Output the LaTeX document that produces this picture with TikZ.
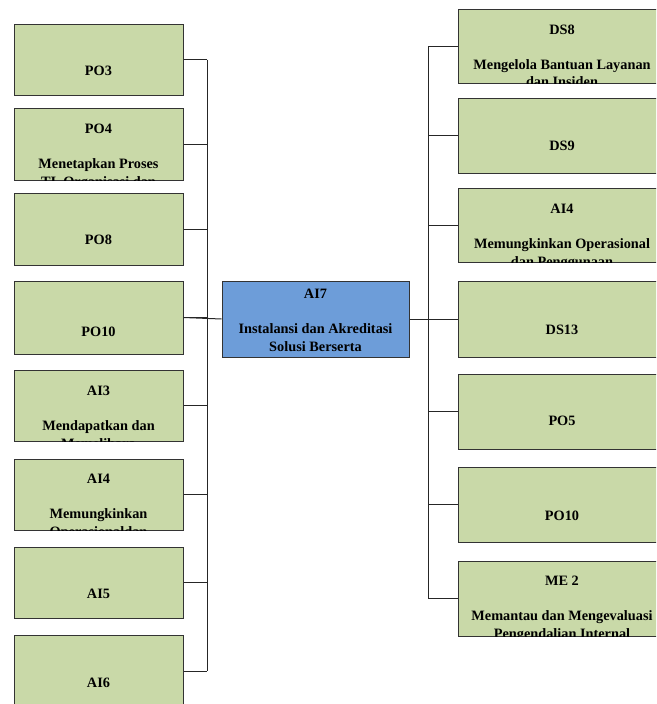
\documentclass[tikz,border=0pt]{standalone}
\usepackage{fontspec}
\setmainfont{Liberation Serif}
\definecolor{boxgreen}{HTML}{C9D9A8}
\definecolor{boxblue}{HTML}{6D9DD9}
\definecolor{edgegrey}{HTML}{333333}
\tikzset{
  gbox/.style={draw=edgegrey, line width=1pt, fill=boxgreen, inner sep=0pt},
  bbox/.style={draw=edgegrey, line width=1pt, fill=boxblue, inner sep=0pt},
  txt/.style={anchor=north, align=center, inner sep=0pt, text=black,
    font=\bfseries\fontsize{14.3}{17.5}\selectfont},
  conn/.style={draw=black!85, line width=1pt}
}
% name, cx, cy, w, h, style, text, baseline y of first line
\newcommand\mybox[8]{%
  \node[#6, minimum width=#4pt, minimum height=#5pt] (#1) at (#2,#3) {};
  \begin{scope}
    \clip (#1.south west) rectangle (#1.north east);
    \node[txt] at (#2,#8-8.7) {#7};
  \end{scope}}
\begin{document}
\begin{tikzpicture}[x=1pt,y=-1pt]
\useasboundingbox (0,0) rectangle (656,704);
\clip (0,0) rectangle (656,704);
% left column
\mybox{po3}{98.5}{59.5}{169}{71}{gbox}{PO3}{75}
\mybox{po4}{98.5}{144}{169}{72}{gbox}{PO4\\ \mbox{}\\Menetapkan Proses\\TI, Organisasi dan}{133}
\mybox{po8}{98.5}{229}{169}{72}{gbox}{PO8}{243}
\mybox{po10l}{98.5}{317.5}{169}{73}{gbox}{PO10}{335}
\mybox{ai3}{98.5}{405.5}{169}{71}{gbox}{AI3\\ \mbox{}\\Mendapatkan dan\\Memelihara}{395}
\mybox{ai4l}{98.5}{494.5}{169}{71}{gbox}{AI4\\ \mbox{}\\Memungkinkan\\Operasionaldan}{483}
\mybox{ai5}{98.5}{582.5}{169}{71}{gbox}{AI5}{598}
\mybox{ai6}{98.5}{671}{169}{72}{gbox}{AI6}{687}
% centre
\mybox{ai7}{315.5}{319}{187}{76}{bbox}{AI7\\ \mbox{}\\Instalansi dan Akreditasi\\Solusi Berserta}{298}
% right column
\mybox{ds8}{562}{46}{208}{74}{gbox}{DS8\\ \mbox{}\\Mengelola Bantuan Layanan\\dan Insiden}{33}
\mybox{ds9}{562}{135.5}{208}{75}{gbox}{DS9}{150}
\mybox{ai4r}{562}{225}{208}{74}{gbox}{AI4\\ \mbox{}\\Memungkinkan Operasional\\dan Penggunaan}{213}
\mybox{ds13}{562}{319}{208}{76}{gbox}{DS13}{334}
\mybox{po5}{562}{411.5}{208}{75}{gbox}{PO5}{425}
\mybox{po10r}{562}{504.5}{208}{75}{gbox}{PO10}{519}
\mybox{me2}{562}{598.5}{208}{75}{gbox}{ME 2\\ \mbox{}\\Memantau dan Mengevaluasi\\Pengendalian Internal}{585}
% buses
\coordinate (lbus) at (207,0);
\coordinate (rbus) at (428,0);
\foreach \n in {po3,po4,po8,po10l,ai3,ai4l,ai5,ai6}
  \draw[conn] (\n.east) -- (\n.east -| lbus);
\draw[conn] (po3.east -| lbus) -- (ai6.east -| lbus);
\draw[conn] (po10l.east) -- (ai7.west);
\foreach \n in {ds8,ds9,ai4r,ds13,po5,po10r,me2}
  \draw[conn] (rbus |- \n.west) -- (\n.west);
\draw[conn] (rbus |- ds8.west) -- (rbus |- me2.west);
\draw[conn] (ai7.east) -- (ai7.east -| rbus);
\end{tikzpicture}
\end{document}
